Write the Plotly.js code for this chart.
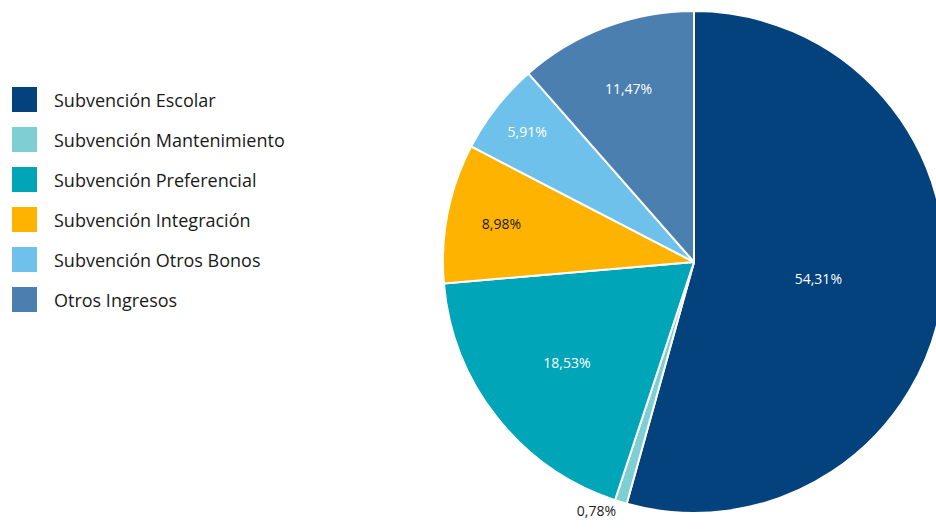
<!DOCTYPE html>
<html>
<head>
<meta charset="utf-8">
<script src="https://cdn.plot.ly/plotly-3.0.1.min.js"></script>
<style>
html,body{margin:0;padding:0;overflow:hidden;background:#fff;}
#chart{width:960px;height:530px;}
</style>
</head>
<body>
<div id="chart"></div>
<script>
const labels = ["Subvención Escolar","Subvención Mantenimiento","Subvención Preferencial","Subvención Integración","Subvención Otros Bonos","Otros Ingresos"];
const values = [54.31, 0.78, 18.53, 8.98, 5.91, 11.47];
const colors = ["#03427c","#7dcfd3","#00a5b8","#fdb300","#6ec1ea","#4a7fb0"];
const textColors = ["#ffffff","#222222","#ffffff","#1a1a1a","#ffffff","#ffffff"];
const textPositions = ["inside","outside","inside","inside","inside","inside"];

const W = 960, H = 530;
const FONT = "Open Sans, Noto Sans, sans-serif";

const trace = {
  type: "pie",
  labels: labels,
  values: values,
  sort: false,
  direction: "clockwise",
  rotation: 0,
  marker: {colors: colors, line: {color: "#ffffff", width: 2}},
  texttemplate: "%{value:.2f}%",
  textposition: textPositions,
  insidetextorientation: "horizontal",
  insidetextfont: {family: FONT, size: 14, color: textColors},
  outsidetextfont: {family: FONT, size: 14, color: "#222222"},
  hoverinfo: "label+value",
  showlegend: false,
  domain: {x: [443/W, 945/W], y: [1-513/H, 1-11/H]},
  automargin: false
};

const shapes = [];
const annotations = [];
labels.forEach((lab, i) => {
  const yc = 99.5 + i*40;
  shapes.push({type: "rect", xref: "paper", yref: "paper",
    x0: 12/W, x1: 37/W, y0: 1-(yc+12.5)/H, y1: 1-(yc-12.5)/H,
    fillcolor: colors[i], line: {width: 0}});
  annotations.push({xref: "paper", yref: "paper", x: 52/W, y: 1-yc/H,
    xanchor: "left", yanchor: "middle", showarrow: false, text: lab,
    font: {family: FONT, size: 18, color: "#1a1a1a"}});
});

const layout = {
  width: W, height: H,
  margin: {l: 0, r: 0, t: 0, b: 0},
  paper_bgcolor: "#ffffff",
  separators: ",.",
  showlegend: false,
  shapes: shapes,
  annotations: annotations,
  font: {family: FONT}
};

Plotly.newPlot("chart", [trace], layout, {displayModeBar: false, staticPlot: true});
</script>
</body>
</html>
